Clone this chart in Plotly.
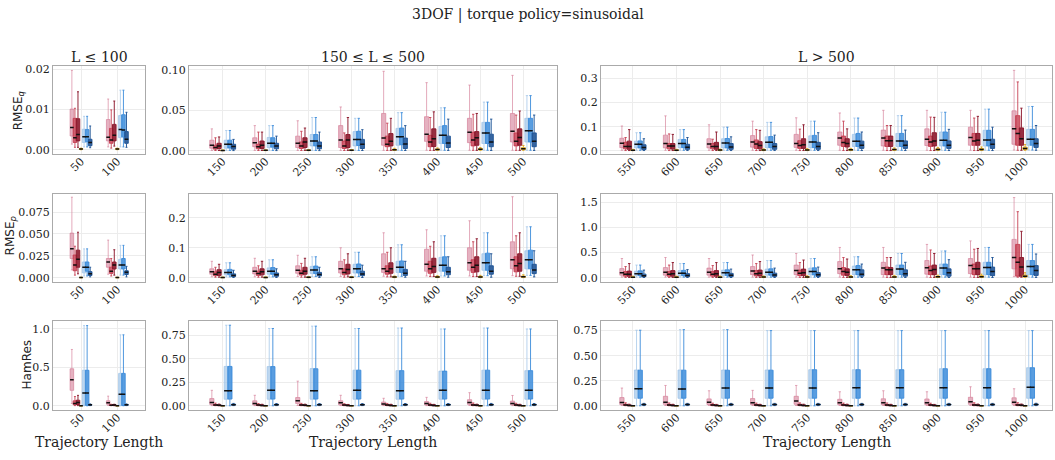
import plotly.graph_objects as go

# ---------------------------------------------------------------- categories
lengths_short = [50, 100]
lengths_mid = [150, 200, 250, 300, 350, 400, 450, 500]
lengths_long = [550, 600, 650, 700, 750, 800, 850, 900, 950, 1000]
lengths = lengths_short + lengths_mid + lengths_long

series_keys = ["rose", "crimson", "maroon", "gold", "sky", "azure", "navy"]
series_rgb = [(212, 125, 150), (196, 58, 78), (140, 24, 44), (222, 170, 40),
              (160, 196, 232), (60, 140, 218), (32, 84, 150)]
series_alpha = [0.6, 0.8, 0.9, 0.9, 0.7, 0.85, 0.9]

# ------------------------------------------------------------------- values
# every entry: (lower whisker, q1, median, q3, upper whisker), one per length

# RMSE_q
rmse_q_rose = [(0.0014, 0.0034, 0.0055, 0.0101, 0.0197), (0.0007, 0.0022, 0.0031, 0.0075, 0.0126),
               (0.0004, 0.0032, 0.0068, 0.013, 0.027), (0.0004, 0.005, 0.010, 0.016, 0.031),
               (0.0004, 0.004, 0.0092, 0.018, 0.037), (0.0004, 0.004, 0.0132, 0.031, 0.054),
               (0.0005, 0.0068, 0.0156, 0.046, 0.098), (0.0006, 0.0116, 0.0204, 0.042, 0.084),
               (0.0006, 0.010, 0.0228, 0.040, 0.081), (0.0006, 0.0108, 0.024, 0.046, 0.093),
               (0.002, 0.013, 0.031, 0.052, 0.103), (0.002, 0.012, 0.030, 0.065, 0.145),
               (0.002, 0.012, 0.028, 0.050, 0.108), (0.002, 0.015, 0.037, 0.063, 0.123),
               (0.002, 0.014, 0.030, 0.068, 0.137), (0.002, 0.023, 0.053, 0.078, 0.157),
               (0.002, 0.020, 0.053, 0.086, 0.168), (0.002, 0.022, 0.048, 0.091, 0.168),
               (0.002, 0.023, 0.055, 0.098, 0.168), (0.003, 0.027, 0.091, 0.166, 0.334)]
rmse_q_crimson = [(0.0006, 0.0018, 0.0030, 0.0078, 0.0103), (0.0004, 0.0016, 0.0024, 0.0053, 0.0099),
                  (0.0003, 0.002, 0.004, 0.0068, 0.016), (0.0003, 0.0024, 0.005, 0.008, 0.023),
                  (0.0003, 0.0028, 0.006, 0.0108, 0.024), (0.0003, 0.0028, 0.006, 0.012, 0.022),
                  (0.0004, 0.005, 0.008, 0.018, 0.034), (0.0004, 0.005, 0.0108, 0.019, 0.041),
                  (0.0005, 0.006, 0.0132, 0.0228, 0.045), (0.0005, 0.006, 0.0116, 0.022, 0.044),
                  (0.001, 0.008, 0.018, 0.035, 0.055), (0.001, 0.008, 0.020, 0.030, 0.070),
                  (0.001, 0.008, 0.018, 0.030, 0.048), (0.001, 0.010, 0.028, 0.045, 0.088),
                  (0.001, 0.010, 0.022, 0.042, 0.090), (0.001, 0.018, 0.034, 0.061, 0.123),
                  (0.001, 0.018, 0.042, 0.061, 0.105), (0.001, 0.018, 0.037, 0.061, 0.140),
                  (0.001, 0.023, 0.041, 0.072, 0.136), (0.002, 0.023, 0.072, 0.146, 0.286)]
rmse_q_maroon = [(0.0006, 0.0022, 0.0038, 0.0077, 0.0144), (0.0009, 0.0022, 0.0036, 0.0063, 0.0121),
                 (0.0003, 0.0028, 0.006, 0.0092, 0.017), (0.0003, 0.0028, 0.0068, 0.012, 0.023),
                 (0.0004, 0.004, 0.0108, 0.016, 0.028), (0.0004, 0.004, 0.0132, 0.020, 0.041),
                 (0.0005, 0.006, 0.0116, 0.0212, 0.040), (0.0005, 0.0052, 0.0148, 0.027, 0.048),
                 (0.0005, 0.0068, 0.016, 0.0236, 0.046), (0.0005, 0.0068, 0.0164, 0.027, 0.049),
                 (0.001, 0.006, 0.018, 0.040, 0.088), (0.001, 0.007, 0.020, 0.030, 0.068),
                 (0.001, 0.006, 0.018, 0.035, 0.078), (0.001, 0.008, 0.022, 0.038, 0.085),
                 (0.001, 0.010, 0.025, 0.050, 0.108), (0.001, 0.016, 0.030, 0.050, 0.091),
                 (0.001, 0.018, 0.042, 0.061, 0.105), (0.001, 0.020, 0.041, 0.075, 0.139),
                 (0.001, 0.023, 0.044, 0.072, 0.143), (0.002, 0.023, 0.050, 0.095, 0.177)]
rmse_q_gold = [(0.0, 0.0001, 0.0002, 0.0003, 0.0004), (0.0, 0.0001, 0.0002, 0.0003, 0.0004),
               (0.0001, 0.0003, 0.0004, 0.0006, 0.0009), (0.0001, 0.0003, 0.0005, 0.0007, 0.001),
               (0.0001, 0.0004, 0.0006, 0.0008, 0.0012), (0.0002, 0.0005, 0.0007, 0.001, 0.0015),
               (0.0003, 0.0008, 0.0012, 0.0018, 0.003), (0.0004, 0.001, 0.0015, 0.0022, 0.0035),
               (0.0005, 0.0012, 0.0018, 0.0026, 0.004), (0.0005, 0.0015, 0.0025, 0.0038, 0.0065),
               (0.0005, 0.0015, 0.0025, 0.0035, 0.006), (0.0005, 0.0015, 0.0025, 0.0035, 0.006),
               (0.0006, 0.0018, 0.003, 0.004, 0.007), (0.0006, 0.002, 0.003, 0.0045, 0.008),
               (0.0008, 0.0022, 0.0035, 0.005, 0.009), (0.0008, 0.0025, 0.004, 0.006, 0.010),
               (0.001, 0.003, 0.005, 0.007, 0.012), (0.001, 0.0035, 0.0055, 0.008, 0.014),
               (0.001, 0.003, 0.005, 0.009, 0.016), (0.002, 0.005, 0.009, 0.015, 0.026)]
rmse_q_sky = [(0.0007, 0.0018, 0.0032, 0.0051, 0.0083), (0.0007, 0.0030, 0.0050, 0.0085, 0.0148),
              (0.0004, 0.0032, 0.008, 0.013, 0.025), (0.0004, 0.004, 0.0092, 0.0164, 0.031),
              (0.0004, 0.006, 0.012, 0.020, 0.041), (0.0004, 0.006, 0.014, 0.0236, 0.040),
              (0.0005, 0.0068, 0.0172, 0.0276, 0.047), (0.0006, 0.009, 0.019, 0.030, 0.053),
              (0.0006, 0.009, 0.022, 0.035, 0.060), (0.0006, 0.0108, 0.0248, 0.040, 0.068),
              (0.002, 0.012, 0.027, 0.040, 0.075), (0.002, 0.013, 0.030, 0.047, 0.088),
              (0.002, 0.012, 0.032, 0.050, 0.098), (0.002, 0.013, 0.035, 0.058, 0.118),
              (0.002, 0.013, 0.036, 0.062, 0.123), (0.002, 0.018, 0.040, 0.068, 0.136),
              (0.002, 0.018, 0.041, 0.072, 0.146), (0.002, 0.020, 0.044, 0.078, 0.160),
              (0.002, 0.020, 0.045, 0.085, 0.173), (0.003, 0.023, 0.048, 0.089, 0.184)]
rmse_q_azure = [(0.0007, 0.0020, 0.0032, 0.0050, 0.0083), (0.0007, 0.0032, 0.0049, 0.0087, 0.0148),
                (0.0004, 0.0035, 0.008, 0.013, 0.025), (0.0004, 0.0045, 0.0092, 0.016, 0.031),
                (0.0004, 0.006, 0.012, 0.020, 0.041), (0.0004, 0.0065, 0.014, 0.024, 0.040),
                (0.0005, 0.0075, 0.0172, 0.028, 0.047), (0.0006, 0.009, 0.019, 0.031, 0.053),
                (0.0006, 0.009, 0.022, 0.035, 0.060), (0.0006, 0.0108, 0.0248, 0.040, 0.068),
                (0.002, 0.012, 0.027, 0.041, 0.075), (0.002, 0.013, 0.030, 0.047, 0.088),
                (0.002, 0.012, 0.032, 0.051, 0.098), (0.002, 0.013, 0.035, 0.059, 0.118),
                (0.002, 0.013, 0.036, 0.064, 0.123), (0.002, 0.018, 0.040, 0.072, 0.136),
                (0.002, 0.018, 0.041, 0.072, 0.146), (0.002, 0.020, 0.044, 0.078, 0.160),
                (0.002, 0.020, 0.045, 0.085, 0.173), (0.003, 0.023, 0.048, 0.089, 0.184)]
rmse_q_navy = [(0.0005, 0.0010, 0.0018, 0.0026, 0.0059), (0.0006, 0.0016, 0.0026, 0.0045, 0.0093),
               (0.0002, 0.002, 0.0052, 0.008, 0.014), (0.0002, 0.0024, 0.006, 0.0092, 0.018),
               (0.0002, 0.0024, 0.006, 0.0108, 0.023), (0.0003, 0.0028, 0.008, 0.014, 0.026),
               (0.0003, 0.0028, 0.0084, 0.0156, 0.031), (0.0004, 0.004, 0.0096, 0.018, 0.039),
               (0.0004, 0.005, 0.0108, 0.0204, 0.039), (0.0004, 0.005, 0.0116, 0.022, 0.044),
               (0.001, 0.005, 0.014, 0.025, 0.050), (0.001, 0.006, 0.015, 0.027, 0.055),
               (0.001, 0.006, 0.016, 0.030, 0.058), (0.001, 0.006, 0.018, 0.030, 0.065),
               (0.001, 0.006, 0.018, 0.035, 0.075), (0.001, 0.010, 0.023, 0.040, 0.078),
               (0.001, 0.010, 0.023, 0.041, 0.086), (0.001, 0.010, 0.023, 0.041, 0.089),
               (0.001, 0.010, 0.027, 0.048, 0.098), (0.002, 0.014, 0.030, 0.050, 0.105)]

# RMSE_p
rmse_p_rose = [(0.009, 0.022, 0.033, 0.051, 0.092), (0.004, 0.012, 0.018, 0.022, 0.043),
               (0.003, 0.012, 0.020, 0.030, 0.055), (0.003, 0.013, 0.022, 0.035, 0.065),
               (0.004, 0.015, 0.025, 0.040, 0.075), (0.004, 0.016, 0.030, 0.055, 0.100),
               (0.005, 0.018, 0.030, 0.080, 0.150), (0.006, 0.022, 0.045, 0.095, 0.160),
               (0.006, 0.025, 0.050, 0.100, 0.190), (0.007, 0.030, 0.060, 0.120, 0.270),
               (0.01, 0.05, 0.10, 0.18, 0.38), (0.01, 0.05, 0.11, 0.20, 0.40),
               (0.01, 0.05, 0.11, 0.19, 0.38), (0.01, 0.06, 0.13, 0.22, 0.45),
               (0.01, 0.06, 0.14, 0.25, 0.48), (0.01, 0.08, 0.175, 0.32, 0.60),
               (0.01, 0.06, 0.19, 0.305, 0.60), (0.01, 0.07, 0.195, 0.34, 0.66),
               (0.01, 0.08, 0.24, 0.38, 0.73), (0.02, 0.175, 0.40, 0.76, 1.59)]
rmse_p_crimson = [(0.003, 0.008, 0.0146, 0.026, 0.036), (0.002, 0.005, 0.0075, 0.012, 0.022),
                  (0.002, 0.007, 0.012, 0.020, 0.035), (0.002, 0.008, 0.014, 0.022, 0.040),
                  (0.002, 0.009, 0.015, 0.025, 0.048), (0.002, 0.010, 0.018, 0.030, 0.060),
                  (0.003, 0.012, 0.022, 0.040, 0.085), (0.004, 0.015, 0.030, 0.055, 0.105),
                  (0.004, 0.018, 0.035, 0.060, 0.120), (0.005, 0.020, 0.040, 0.070, 0.140),
                  (0.005, 0.03, 0.07, 0.12, 0.22), (0.005, 0.03, 0.07, 0.12, 0.25),
                  (0.005, 0.03, 0.07, 0.12, 0.24), (0.005, 0.035, 0.08, 0.14, 0.28),
                  (0.005, 0.04, 0.09, 0.15, 0.30), (0.005, 0.05, 0.12, 0.20, 0.40),
                  (0.005, 0.06, 0.155, 0.21, 0.40), (0.005, 0.06, 0.14, 0.23, 0.55),
                  (0.005, 0.06, 0.175, 0.27, 0.565), (0.01, 0.03, 0.305, 0.66, 1.31)]
rmse_p_maroon = [(0.0045, 0.012, 0.021, 0.0315, 0.052), (0.003, 0.010, 0.0146, 0.018, 0.032),
                 (0.002, 0.008, 0.018, 0.027, 0.045), (0.002, 0.010, 0.020, 0.030, 0.055),
                 (0.002, 0.012, 0.022, 0.035, 0.065), (0.003, 0.013, 0.028, 0.045, 0.080),
                 (0.003, 0.015, 0.030, 0.050, 0.100), (0.004, 0.018, 0.038, 0.065, 0.120),
                 (0.004, 0.020, 0.042, 0.070, 0.130), (0.005, 0.022, 0.048, 0.080, 0.150),
                 (0.005, 0.03, 0.07, 0.13, 0.28), (0.005, 0.03, 0.08, 0.14, 0.30),
                 (0.005, 0.03, 0.08, 0.14, 0.30), (0.005, 0.035, 0.09, 0.15, 0.32),
                 (0.005, 0.04, 0.10, 0.17, 0.35), (0.005, 0.045, 0.11, 0.175, 0.37),
                 (0.005, 0.06, 0.155, 0.20, 0.40), (0.005, 0.06, 0.16, 0.25, 0.48),
                 (0.005, 0.06, 0.175, 0.305, 0.58), (0.01, 0.03, 0.21, 0.40, 0.92)]
rmse_p_gold = [(0.0, 0.0001, 0.0002, 0.0004, 0.0006), (0.0, 0.0001, 0.0002, 0.0004, 0.0006),
               (0.0002, 0.0006, 0.001, 0.0015, 0.0025), (0.0002, 0.0007, 0.0012, 0.0018, 0.003),
               (0.0003, 0.0008, 0.0014, 0.002, 0.0035), (0.0003, 0.001, 0.0016, 0.0024, 0.004),
               (0.0004, 0.0014, 0.0024, 0.0035, 0.006), (0.0005, 0.0016, 0.0028, 0.004, 0.007),
               (0.0005, 0.0018, 0.003, 0.0045, 0.008), (0.0006, 0.002, 0.0035, 0.0055, 0.010),
               (0.002, 0.005, 0.01, 0.015, 0.03), (0.002, 0.005, 0.01, 0.015, 0.03),
               (0.002, 0.005, 0.01, 0.016, 0.032), (0.002, 0.006, 0.011, 0.017, 0.035),
               (0.002, 0.006, 0.012, 0.018, 0.038), (0.003, 0.007, 0.013, 0.02, 0.04),
               (0.003, 0.008, 0.015, 0.024, 0.045), (0.003, 0.009, 0.018, 0.028, 0.05),
               (0.003, 0.01, 0.02, 0.04, 0.07), (0.005, 0.015, 0.03, 0.05, 0.10)]
rmse_p_sky = [(0.002, 0.0056, 0.012, 0.018, 0.033), (0.003, 0.010, 0.0146, 0.021, 0.037),
              (0.003, 0.010, 0.018, 0.027, 0.050), (0.003, 0.012, 0.022, 0.033, 0.060),
              (0.004, 0.014, 0.026, 0.038, 0.070), (0.004, 0.016, 0.030, 0.045, 0.085),
              (0.005, 0.018, 0.035, 0.055, 0.110), (0.006, 0.022, 0.042, 0.068, 0.140),
              (0.007, 0.025, 0.050, 0.080, 0.150), (0.008, 0.030, 0.060, 0.090, 0.170),
              (0.01, 0.04, 0.08, 0.13, 0.25), (0.01, 0.04, 0.09, 0.14, 0.28),
              (0.01, 0.045, 0.10, 0.15, 0.30), (0.01, 0.05, 0.11, 0.17, 0.34),
              (0.01, 0.055, 0.12, 0.19, 0.38), (0.01, 0.06, 0.155, 0.23, 0.415),
              (0.01, 0.06, 0.17, 0.25, 0.48), (0.01, 0.06, 0.19, 0.27, 0.53),
              (0.01, 0.06, 0.20, 0.305, 0.60), (0.01, 0.06, 0.22, 0.34, 0.66)]
rmse_p_azure = [(0.002, 0.0075, 0.012, 0.018, 0.033), (0.003, 0.010, 0.0146, 0.022, 0.037),
                (0.003, 0.010, 0.018, 0.028, 0.050), (0.003, 0.012, 0.022, 0.034, 0.060),
                (0.004, 0.014, 0.026, 0.039, 0.070), (0.004, 0.016, 0.030, 0.046, 0.085),
                (0.005, 0.018, 0.035, 0.056, 0.110), (0.006, 0.022, 0.042, 0.070, 0.140),
                (0.007, 0.025, 0.050, 0.082, 0.150), (0.008, 0.030, 0.060, 0.092, 0.170),
                (0.01, 0.04, 0.08, 0.135, 0.25), (0.01, 0.04, 0.09, 0.145, 0.28),
                (0.01, 0.045, 0.10, 0.155, 0.30), (0.01, 0.05, 0.11, 0.175, 0.34),
                (0.01, 0.055, 0.12, 0.195, 0.38), (0.01, 0.06, 0.155, 0.24, 0.415),
                (0.01, 0.06, 0.17, 0.25, 0.48), (0.01, 0.06, 0.19, 0.27, 0.53),
                (0.01, 0.06, 0.20, 0.305, 0.60), (0.01, 0.06, 0.22, 0.34, 0.66)]
rmse_p_navy = [(0.001, 0.0026, 0.0045, 0.007, 0.012), (0.001, 0.0037, 0.0064, 0.008, 0.013),
               (0.001, 0.004, 0.008, 0.013, 0.025), (0.001, 0.005, 0.010, 0.016, 0.030),
               (0.001, 0.006, 0.011, 0.018, 0.035), (0.001, 0.007, 0.013, 0.022, 0.042),
               (0.002, 0.008, 0.015, 0.028, 0.055), (0.002, 0.010, 0.020, 0.035, 0.070),
               (0.002, 0.012, 0.022, 0.040, 0.080), (0.003, 0.014, 0.026, 0.045, 0.090),
               (0.003, 0.02, 0.04, 0.07, 0.15), (0.003, 0.02, 0.045, 0.08, 0.16),
               (0.003, 0.02, 0.05, 0.085, 0.17), (0.003, 0.025, 0.055, 0.09, 0.19),
               (0.003, 0.025, 0.06, 0.10, 0.21), (0.003, 0.03, 0.07, 0.155, 0.27),
               (0.003, 0.03, 0.08, 0.155, 0.305), (0.003, 0.03, 0.10, 0.175, 0.357),
               (0.003, 0.04, 0.12, 0.21, 0.40), (0.005, 0.045, 0.14, 0.24, 0.47)]

# HamRes
hamres_rose = [(0.03, 0.20, 0.336, 0.48, 0.73), (0.004, 0.02, 0.04, 0.065, 0.125),
               (0.002, 0.014, 0.035, 0.077, 0.165), (0.002, 0.010, 0.025, 0.053, 0.112),
               (0.003, 0.025, 0.053, 0.088, 0.263), (0.002, 0.010, 0.032, 0.053, 0.112),
               (0.002, 0.008, 0.020, 0.040, 0.080), (0.002, 0.010, 0.025, 0.045, 0.090),
               (0.003, 0.015, 0.035, 0.065, 0.140), (0.002, 0.010, 0.025, 0.050, 0.110),
               (0.003, 0.013, 0.033, 0.082, 0.177), (0.003, 0.015, 0.036, 0.095, 0.203),
               (0.003, 0.013, 0.036, 0.069, 0.150), (0.003, 0.013, 0.030, 0.072, 0.154),
               (0.003, 0.015, 0.049, 0.095, 0.203), (0.003, 0.012, 0.030, 0.065, 0.140),
               (0.003, 0.012, 0.030, 0.070, 0.150), (0.003, 0.012, 0.030, 0.068, 0.140),
               (0.003, 0.015, 0.040, 0.085, 0.190), (0.003, 0.015, 0.035, 0.080, 0.170)]
hamres_crimson = [(0.002, 0.013, 0.030, 0.064, 0.120), (0.001, 0.004, 0.008, 0.012, 0.020),
                  (0.001, 0.004, 0.008, 0.014, 0.028), (0.001, 0.004, 0.007, 0.012, 0.024),
                  (0.001, 0.004, 0.008, 0.013, 0.026), (0.001, 0.003, 0.007, 0.012, 0.022),
                  (0.001, 0.004, 0.008, 0.013, 0.025), (0.001, 0.004, 0.008, 0.014, 0.027),
                  (0.001, 0.004, 0.009, 0.015, 0.030), (0.001, 0.004, 0.008, 0.014, 0.027),
                  (0.001, 0.005, 0.009, 0.016, 0.030), (0.001, 0.004, 0.008, 0.014, 0.028),
                  (0.001, 0.004, 0.008, 0.013, 0.026), (0.001, 0.004, 0.008, 0.014, 0.027),
                  (0.001, 0.004, 0.009, 0.015, 0.029), (0.001, 0.004, 0.008, 0.014, 0.027),
                  (0.001, 0.004, 0.008, 0.014, 0.028), (0.001, 0.004, 0.008, 0.013, 0.026),
                  (0.001, 0.005, 0.009, 0.015, 0.030), (0.001, 0.005, 0.009, 0.016, 0.031)]
hamres_maroon = [(0.002, 0.017, 0.043, 0.072, 0.135), (0.001, 0.005, 0.010, 0.014, 0.020),
                 (0.0005, 0.002, 0.005, 0.009, 0.018), (0.0005, 0.002, 0.004, 0.008, 0.016),
                 (0.0005, 0.002, 0.005, 0.009, 0.017), (0.0005, 0.002, 0.004, 0.007, 0.014),
                 (0.0005, 0.002, 0.004, 0.008, 0.016), (0.0005, 0.002, 0.004, 0.008, 0.015),
                 (0.0005, 0.002, 0.005, 0.009, 0.017), (0.0005, 0.002, 0.004, 0.008, 0.016),
                 (0.0005, 0.002, 0.004, 0.008, 0.016), (0.0005, 0.002, 0.004, 0.008, 0.015),
                 (0.0005, 0.002, 0.004, 0.007, 0.014), (0.0005, 0.002, 0.004, 0.008, 0.015),
                 (0.0005, 0.002, 0.004, 0.008, 0.016), (0.0005, 0.002, 0.004, 0.008, 0.016),
                 (0.0005, 0.002, 0.004, 0.008, 0.015), (0.0005, 0.002, 0.004, 0.007, 0.014),
                 (0.0005, 0.002, 0.005, 0.009, 0.017), (0.0005, 0.002, 0.005, 0.009, 0.018)]
hamres_gold = [(0.0, 0.0005, 0.001, 0.0015, 0.002), (0.0, 0.0005, 0.001, 0.0015, 0.002),
               (0.0, 0.0005, 0.001, 0.0015, 0.002), (0.0, 0.0005, 0.001, 0.0015, 0.002),
               (0.0, 0.0005, 0.001, 0.0015, 0.002), (0.0, 0.0005, 0.001, 0.0015, 0.002),
               (0.0, 0.0005, 0.001, 0.0015, 0.002), (0.0, 0.0005, 0.001, 0.0015, 0.002),
               (0.0, 0.0005, 0.001, 0.0015, 0.002), (0.0, 0.0005, 0.001, 0.0015, 0.002),
               (0.0, 0.0005, 0.001, 0.0015, 0.002), (0.0, 0.0005, 0.001, 0.0015, 0.002),
               (0.0, 0.0005, 0.001, 0.0015, 0.002), (0.0, 0.0005, 0.001, 0.0015, 0.002),
               (0.0, 0.0005, 0.001, 0.0015, 0.002), (0.0, 0.0005, 0.001, 0.0015, 0.002),
               (0.0, 0.0005, 0.001, 0.0015, 0.002), (0.0, 0.0005, 0.001, 0.0015, 0.002),
               (0.0, 0.0005, 0.001, 0.0015, 0.002), (0.0, 0.0005, 0.001, 0.0015, 0.002)]
hamres_sky = [(0.0, 0.005, 0.166, 0.46, 1.04), (0.0, 0.003, 0.15, 0.42, 0.92),
              (0.0, 0.07, 0.16, 0.42, 0.86), (0.0, 0.07, 0.165, 0.418, 0.825),
              (0.0, 0.07, 0.161, 0.397, 0.85), (0.0, 0.07, 0.165, 0.38, 0.825),
              (0.0, 0.07, 0.16, 0.375, 0.83), (0.0, 0.07, 0.165, 0.37, 0.82),
              (0.0, 0.07, 0.165, 0.38, 0.83), (0.0, 0.07, 0.165, 0.375, 0.82),
              (0.0, 0.075, 0.17, 0.357, 0.754), (0.0, 0.075, 0.167, 0.357, 0.76),
              (0.0, 0.075, 0.177, 0.357, 0.76), (0.0, 0.075, 0.177, 0.357, 0.75),
              (0.0, 0.075, 0.177, 0.36, 0.75), (0.0, 0.075, 0.18, 0.36, 0.75),
              (0.0, 0.075, 0.18, 0.36, 0.75), (0.0, 0.075, 0.18, 0.37, 0.75),
              (0.0, 0.075, 0.18, 0.37, 0.75), (0.0, 0.075, 0.185, 0.38, 0.75)]
hamres_azure = [(0.0, 0.006, 0.166, 0.46, 1.04), (0.0, 0.004, 0.15, 0.42, 0.92),
                (0.0, 0.072, 0.16, 0.42, 0.86), (0.0, 0.072, 0.165, 0.418, 0.825),
                (0.0, 0.072, 0.161, 0.395, 0.85), (0.0, 0.072, 0.165, 0.38, 0.825),
                (0.0, 0.072, 0.16, 0.375, 0.83), (0.0, 0.072, 0.165, 0.37, 0.82),
                (0.0, 0.072, 0.165, 0.38, 0.83), (0.0, 0.072, 0.165, 0.375, 0.82),
                (0.0, 0.076, 0.17, 0.355, 0.754), (0.0, 0.076, 0.167, 0.355, 0.76),
                (0.0, 0.076, 0.177, 0.355, 0.76), (0.0, 0.076, 0.177, 0.355, 0.75),
                (0.0, 0.076, 0.177, 0.36, 0.75), (0.0, 0.076, 0.18, 0.36, 0.75),
                (0.0, 0.076, 0.18, 0.36, 0.75), (0.0, 0.076, 0.18, 0.37, 0.75),
                (0.0, 0.076, 0.18, 0.37, 0.75), (0.0, 0.076, 0.185, 0.38, 0.75)]
hamres_navy = [(0.002, 0.008, 0.012, 0.016, 0.024), (0.002, 0.008, 0.012, 0.016, 0.024),
               (0.002, 0.008, 0.012, 0.017, 0.025), (0.002, 0.008, 0.012, 0.016, 0.024),
               (0.002, 0.008, 0.012, 0.016, 0.024), (0.002, 0.008, 0.011, 0.016, 0.023),
               (0.002, 0.008, 0.012, 0.016, 0.024), (0.002, 0.008, 0.012, 0.016, 0.024),
               (0.002, 0.008, 0.012, 0.017, 0.025), (0.002, 0.008, 0.012, 0.016, 0.024),
               (0.002, 0.008, 0.012, 0.016, 0.024), (0.002, 0.008, 0.012, 0.016, 0.024),
               (0.002, 0.008, 0.012, 0.016, 0.024), (0.002, 0.008, 0.012, 0.016, 0.024),
               (0.002, 0.008, 0.012, 0.016, 0.024), (0.002, 0.008, 0.012, 0.016, 0.024),
               (0.002, 0.008, 0.012, 0.016, 0.024), (0.002, 0.008, 0.012, 0.016, 0.024),
               (0.002, 0.008, 0.012, 0.016, 0.024), (0.002, 0.008, 0.012, 0.017, 0.025)]

metric_rows = [
    [rmse_q_rose, rmse_q_crimson, rmse_q_maroon, rmse_q_gold, rmse_q_sky, rmse_q_azure, rmse_q_navy],
    [rmse_p_rose, rmse_p_crimson, rmse_p_maroon, rmse_p_gold, rmse_p_sky, rmse_p_azure, rmse_p_navy],
    [hamres_rose, hamres_crimson, hamres_maroon, hamres_gold, hamres_sky, hamres_azure, hamres_navy],
]
metric_titles = ["RMSE<sub><i>q</i></sub>", "RMSE<sub><i>p</i></sub>", "HamRes"]
group_titles = ["L ≤ 100", "150 ≤ L ≤ 500", "L > 500"]
groups = [lengths_short, lengths_mid, lengths_long]

# y axis ticks per panel: (range, dtick, format)
y_axes = [
    [([-0.00098, 0.0208], 0.01, ".2f"), ([-0.0036, 0.1045], 0.05, ".2f"), ([-0.012, 0.352], 0.1, ".1f")],
    [([-0.0045, 0.0956], 0.025, ".3f"), ([-0.013, 0.279], 0.1, ".1f"), ([-0.08, 1.66], 0.5, ".1f")],
    [([-0.051, 1.098], 0.5, ".1f"), ([-0.042, 0.904], 0.25, ".2f"), ([-0.039, 0.845], 0.25, ".2f")],
]

# ------------------------------------------------------------------ layout
W, H = 1055, 460
col_px = [(53, 145), (189, 557), (601, 1052)]
row_px = [(64, 153), (194, 283), (323, 413)]
x_ranges = [[11.4, 138.1], [110.8, 539.2], [513.4, 1030.9]]
STEP = 4.2      # offset between neighbouring boxes (x units)
BOX_W = 4.9     # box width (x units)
SERIF = "DejaVu Serif"
SANS = "DejaVu Sans"

fig = go.Figure()
layout = dict(
    width=W, height=H, margin=dict(l=0, r=0, t=0, b=0),
    paper_bgcolor="white", plot_bgcolor="white",
    showlegend=False, boxmode="overlay",
    font=dict(family=SERIF, size=11, color="#222"),
)

start = 0
starts = []
for g in groups:
    starts.append(start)
    start += len(g)

for r in range(3):
    for c in range(3):
        n = r * 3 + c + 1
        xa, ya = f"x{n}", f"y{n}"
        g = groups[c]
        s0 = starts[c]
        for si, key in enumerate(series_keys):
            stats = metric_rows[r][si][s0:s0 + len(g)]
            pos = [L + (si - 3) * STEP for L in g]
            rr, gg, bb = series_rgb[si]
            a = series_alpha[si]
            fig.add_trace(go.Box(
                x=pos,
                lowerfence=[s[0] for s in stats], q1=[s[1] for s in stats],
                median=[s[2] for s in stats], q3=[s[3] for s in stats],
                upperfence=[s[4] for s in stats],
                width=BOX_W, whiskerwidth=0.55, boxpoints=False,
                fillcolor=f"rgba({rr},{gg},{bb},{a})",
                line=dict(color=f"rgba({rr},{gg},{bb},{min(1, a + 0.05)})", width=1),
                name=key, xaxis=xa, yaxis=ya, hoverinfo="skip",
            ))
            # black median tick on top of each box
            fig.add_trace(go.Scatter(
                x=pos, y=[s[2] for s in stats], mode="markers",
                marker=dict(symbol="line-ew", size=2.6 if c == 0 else 3.1,
                            line=dict(color="#111", width=1.5)),
                xaxis=xa, yaxis=ya, hoverinfo="skip", showlegend=False,
            ))
        yr, dt, fmt = y_axes[r][c]
        axis_common = dict(showgrid=True, gridcolor="#ececec", gridwidth=0.8,
                           showline=True, linecolor="#aaaaaa", linewidth=1, mirror=True,
                           zeroline=False, ticks="", tickfont=dict(family=SERIF, size=11, color="#222"))
        layout[f"xaxis{n}"] = dict(
            domain=[col_px[c][0] / W, col_px[c][1] / W], range=x_ranges[c],
            tickmode="array", tickvals=g, ticktext=[str(v) for v in g], tickangle=-45,
            ticklabelstandoff=-4, anchor=ya, **axis_common)
        layout[f"yaxis{n}"] = dict(
            domain=[1 - row_px[r][1] / H, 1 - row_px[r][0] / H], range=yr,
            tick0=0, dtick=dt, tickformat=fmt, anchor=xa, **axis_common)

ann = [dict(text="3DOF | torque policy=sinusoidal", x=0.5, y=1 - 12 / H, xref="paper", yref="paper",
            showarrow=False, font=dict(family=SERIF, size=14, color="#222"), xanchor="center", yanchor="middle")]
for c in range(3):
    cx = (col_px[c][0] + col_px[c][1]) / 2 / W
    ann.append(dict(text=group_titles[c], x=cx, y=1 - 55 / H, xref="paper", yref="paper", showarrow=False,
                    font=dict(family=SERIF, size=14, color="#222"), xanchor="center", yanchor="middle"))
    ann.append(dict(text="Trajectory Length", x=cx, y=1 - 446 / H, xref="paper", yref="paper", showarrow=False,
                    font=dict(family=SERIF, size=14, color="#222"), xanchor="center", yanchor="middle"))
title_pos = [(19, 110), (11, 237), (27, 367)]
for r in range(3):
    px, py = title_pos[r]
    ann.append(dict(text=metric_titles[r], x=px / W, y=1 - py / H, xref="paper", yref="paper",
                    showarrow=False, textangle=-90, font=dict(family=SANS, size=12, color="#222"),
                    xanchor="center", yanchor="middle"))
layout["annotations"] = ann

fig.update_layout(**layout)
fig.write_html("out.html")
